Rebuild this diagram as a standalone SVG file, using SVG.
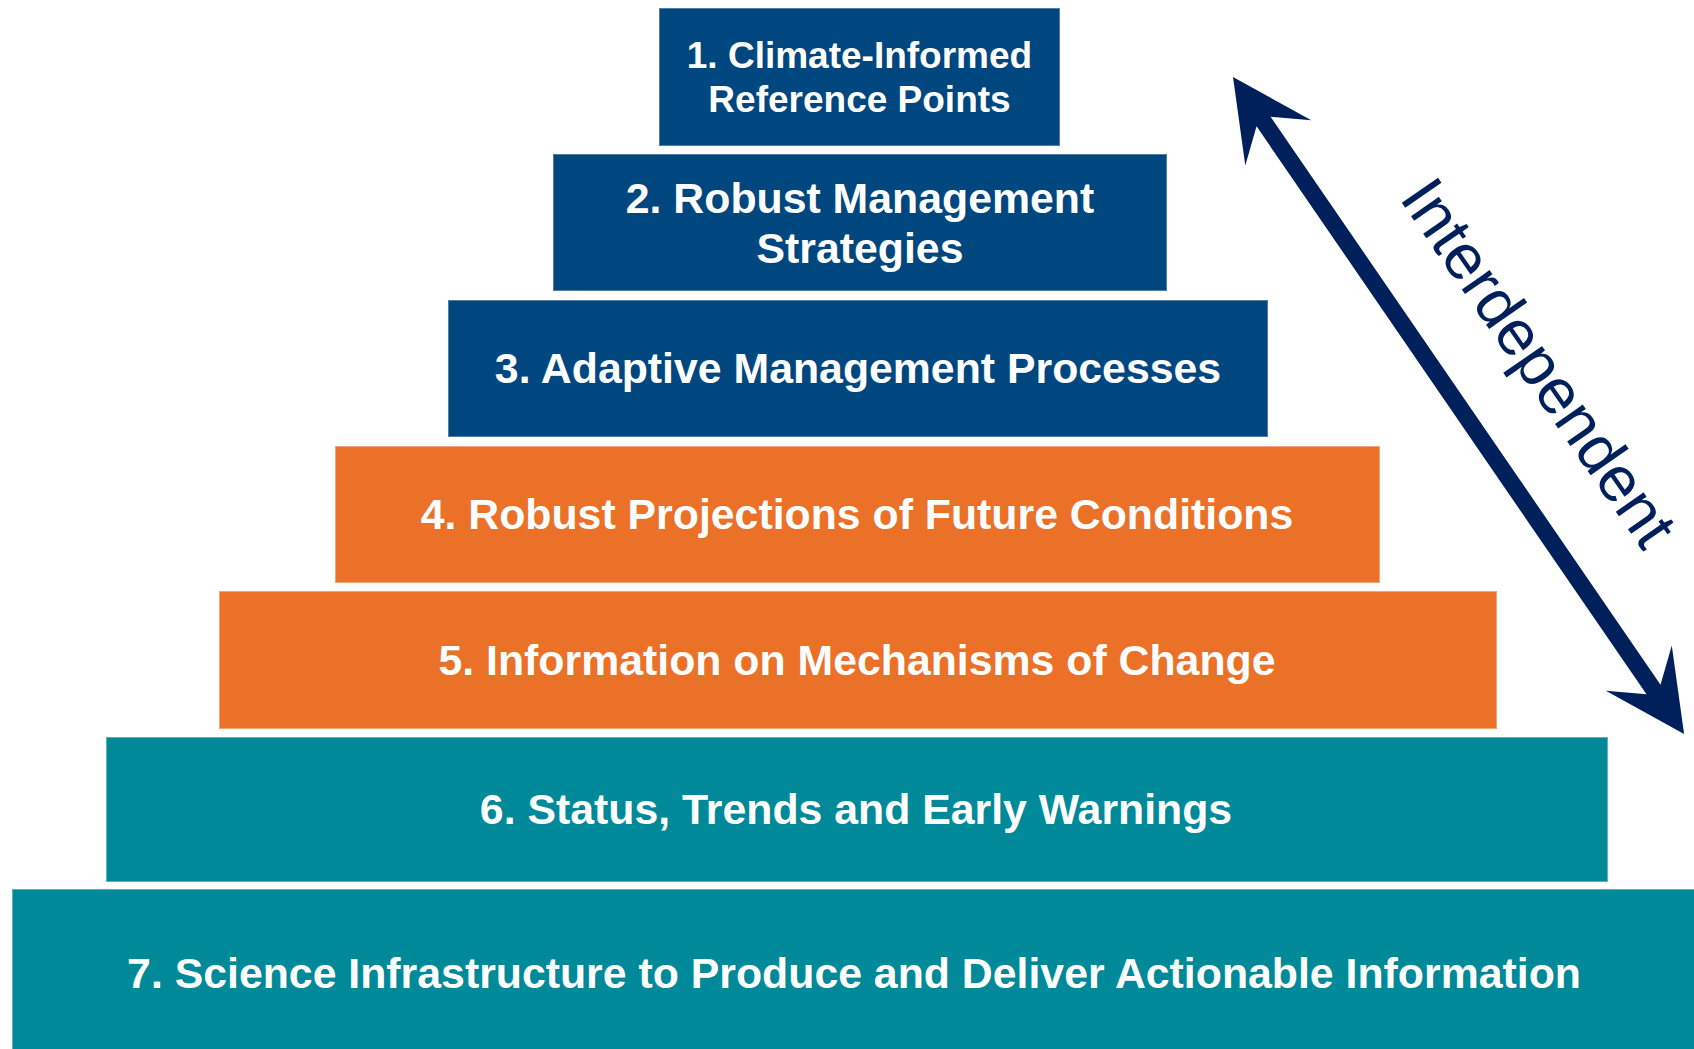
<svg xmlns="http://www.w3.org/2000/svg" width="1694" height="1049" viewBox="0 0 1694 1049">
  <style>
    .lbl { font-family: "Liberation Sans", Arial, sans-serif; font-weight: bold; fill: #ffffff; text-anchor: middle; font-size: 42.8px; }
    .blue { fill: #00477f; stroke: #4f7fa8; stroke-width: 1; }
    .orange { fill: #eb7028; stroke: #f3a57a; stroke-width: 1; }
    .teal { fill: #008a99; stroke: #5fb3bd; stroke-width: 1; }
    .side { font-family: "Liberation Sans", Arial, sans-serif; fill: #00205b; font-size: 64px; text-anchor: middle; }
  </style>
  <rect width="1694" height="1049" fill="#ffffff"/>

  <g id="node1">
    <rect class="blue" x="659.5" y="8.5" width="400" height="137"/>
    <text class="lbl" style="font-size:37px" x="859.5" y="68">1. Climate-Informed</text>
    <text class="lbl" style="font-size:37px" x="859.5" y="112">Reference Points</text>
  </g>
  <g id="node2">
    <rect class="blue" x="553.5" y="154.5" width="613" height="136"/>
    <text class="lbl" x="860" y="213">2. Robust Management</text>
    <text class="lbl" x="860" y="263">Strategies</text>
  </g>
  <g id="node3">
    <rect class="blue" x="448.5" y="300.5" width="819" height="136"/>
    <text class="lbl" x="858" y="383">3. Adaptive Management Processes</text>
  </g>
  <g id="node4">
    <rect class="orange" x="335.5" y="446.5" width="1044" height="136"/>
    <text class="lbl" x="857" y="529">4. Robust Projections of Future Conditions</text>
  </g>
  <g id="node5">
    <rect class="orange" x="219.5" y="591.5" width="1277" height="137"/>
    <text class="lbl" x="857" y="675">5. Information on Mechanisms of Change</text>
  </g>
  <g id="node6">
    <rect class="teal" x="106.5" y="737.5" width="1501" height="144"/>
    <text class="lbl" x="856" y="824">6. Status, Trends and Early Warnings</text>
  </g>
  <g id="node7">
    <rect class="teal" x="12.5" y="889.5" width="1690" height="170"/>
    <text class="lbl" x="854" y="988">7. Science Infrastructure to Produce and Deliver Actionable Information</text>
  </g>

  <g id="connectors">
    <g transform="translate(1233,77) rotate(55.53)">
      <polygon fill="#00205b" points="0,0 80,-40 54,-8.5 743,-8.5 717,-40 797,0 717,40 743,8.5 54,8.5 80,40"/>
    </g>
    <text class="side" transform="translate(1521,375) rotate(55.3)" x="0" y="0">Interdependent</text>
  </g>
</svg>
